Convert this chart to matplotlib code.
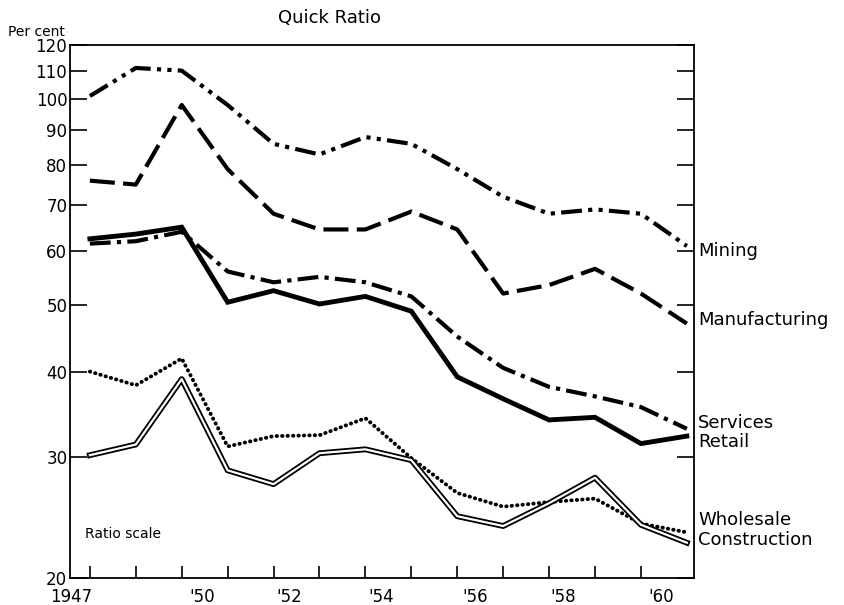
import numpy as np
import matplotlib
matplotlib.use("Agg")
import matplotlib.pyplot as plt
from matplotlib.ticker import FixedLocator, NullLocator

years = list(range(1947, 1961))
mining = [101, 111, 110, 98, 86, 83, 88, 86, 79, 72, 68, 69, 68, 61]
manufacturing = [76, 75, 98, 79, 68, 64.5, 64.5, 68.5, 64.5, 52, 53.5, 56.5, 52, 47]
services = [61.5, 62, 64, 56, 54, 55, 54, 51.5, 45, 40.5, 38, 36.8, 35.5, 33]
retail = [62.5, 63.5, 65, 50.5, 52.5, 50.2, 51.5, 49, 39.3, 36.5, 34, 34.3, 31.4, 32.2]
wholesale = [40, 38.2, 41.8, 31.1, 32.2, 32.3, 34.2, 29.9, 26.6, 25.4, 25.8, 26.1, 24, 23.3]
construction = [30.2, 31.3, 39, 28.7, 27.4, 30.4, 30.8, 29.7, 24.6, 23.8, 25.7, 28, 23.9, 22.5]

year_labels = ["1947", "'50", "'52", "'54", "'56", "'58", "'60"]
year_label_pos = [-0.4, 2.45, 4.35, 6.35, 8.4, 10.3, 12.45]
y_ticks = [20, 30, 40, 50, 60, 70, 80, 90, 100, 110, 120]

plt.rcParams['font.family'] = ['DejaVu Sans']
fig = plt.figure(figsize=(8.45, 6.05), dpi=100)
ax = fig.add_axes([0.083, 0.045, 0.738, 0.881])
x = np.arange(len(years))

ax.plot(x, mining, color='black', lw=3, ls=(0, (5, 1.5, 1, 1.5, 1, 1.5)))
ax.plot(x, manufacturing, color='black', lw=3, ls=(0, (6, 2)))
ax.plot(x, services, color='black', lw=3, ls=(0, (5, 1.5, 1, 1.5)))
ax.plot(x, retail, color='black', lw=3.5, solid_joinstyle='miter')
ax.plot(x, wholesale, color='black', lw=2.8, ls=(0, (0.1, 1.3)), dash_capstyle='round')
ax.plot(x, construction, color='black', lw=4.2)
ax.plot(x, construction, color='white', lw=1.6)

ax.set_yscale('log')
ax.set_ylim(20, 120)
ax.set_xlim(-0.43, 13.15)
ax.yaxis.set_major_locator(FixedLocator(y_ticks))
ax.yaxis.set_minor_locator(NullLocator())
ax.set_yticklabels([str(t) for t in y_ticks], fontsize=12)
ax.tick_params(axis='y', direction='in', length=12, width=1.2, right=True, pad=2)
ax.set_xticks(range(13))
ax.set_xticklabels([])
ax.tick_params(axis='x', direction='in', length=9, width=1.2)
for sp in ax.spines.values():
    sp.set_linewidth(1.3)

for lab, p in zip(year_labels, year_label_pos):
    ax.text(p, 19.3, lab, ha='center', va='top', fontsize=12)

ends = {'Mining': 60, 'Manufacturing': 47.5, 'Services': 33.6, 'Retail': 31.6,
        'Wholesale': 24.3, 'Construction': 22.7}
for name, yv in ends.items():
    ax.text(13.25, yv, name, ha='left', va='center', fontsize=13, clip_on=False)

ax.text(-0.1, 23.2, 'Ratio scale', ha='left', va='center', fontsize=10)
fig.text(0.01, 0.935, 'Per cent', fontsize=10, ha='left', va='bottom')
fig.text(0.39, 0.97, 'Quick Ratio', fontsize=13, ha='center', va='center')

fig.savefig('out.png', dpi=100)
